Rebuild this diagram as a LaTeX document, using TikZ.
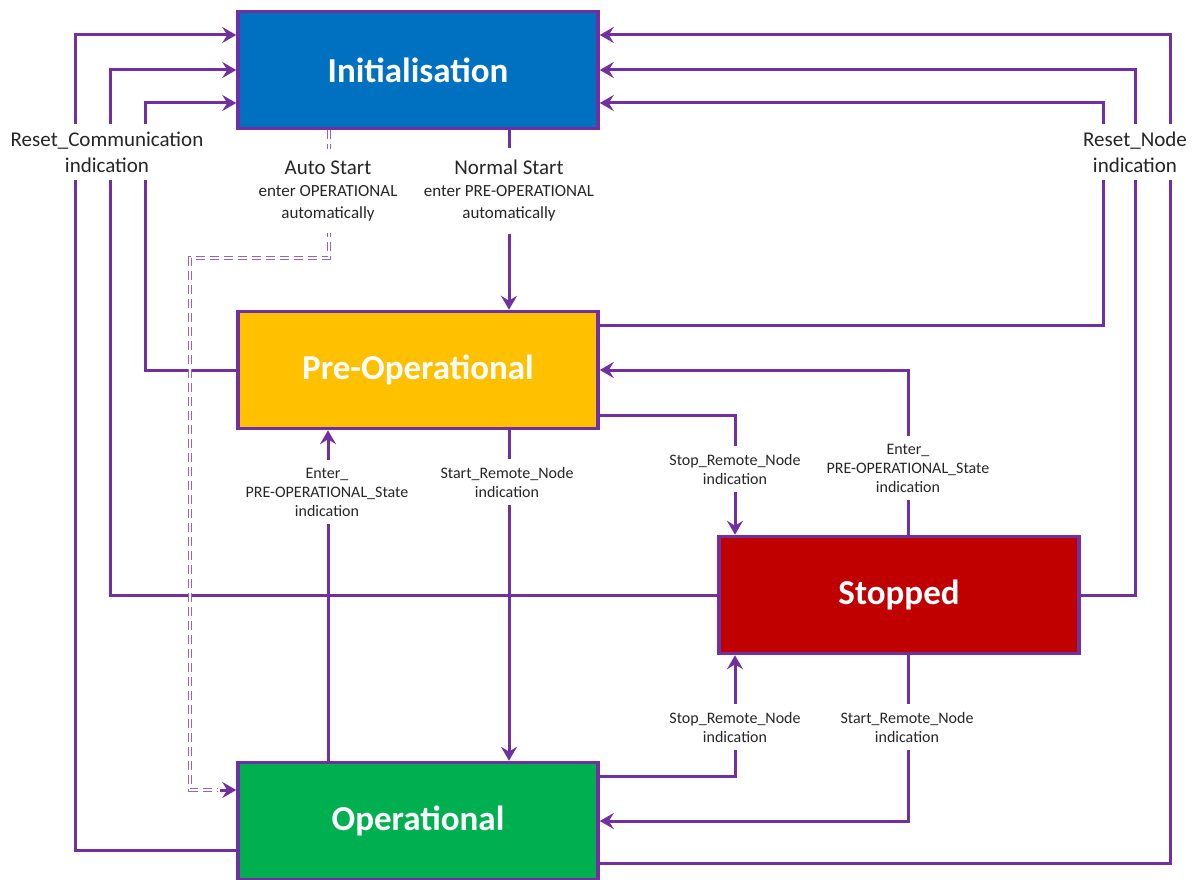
\documentclass[tikz,border=0pt]{standalone}
\usepackage{fontspec}
\setmainfont{Carlito}
\usetikzlibrary{arrows.meta}

\definecolor{initblue}{HTML}{0070C0}
\definecolor{preorange}{HTML}{FFC000}
\definecolor{stopred}{HTML}{C00000}
\definecolor{opgreen}{HTML}{00B050}
\definecolor{nmtpurple}{HTML}{7030A0}

\tikzset{
	state/.style={draw=nmtpurple, line width=3.5pt, rectangle, minimum width=360pt, minimum height=117pt, text=white, font=\bfseries\fontsize{35}{40}\selectfont},
	flow/.style={draw=nmtpurple, line width=3pt, -{Stealth[length=14pt,width=16pt,inset=5pt]}},
	autoflow/.style={draw=nmtpurple!75, line width=1.5pt, double=white, double distance=1.6pt, dash pattern=on 9pt off 5pt},
	lbl/.style={fill=white, align=center, inner xsep=3pt, inner ysep=8pt, text=black!85, font=\fontsize{16}{19}\selectfont},
	biglbl/.style={lbl, font=\fontsize{21}{26}\selectfont}
}

\begin{document}
\begin{tikzpicture}[x=1pt, y=-1pt]
				\useasboundingbox (0,0) rectangle (1196,880);
				\node[state, fill=initblue] (init)at(418, 70) {Initialisation};
				\node[state, fill=preorange] (preop)at(418, 370) {Pre-Operational};
				\node[state, fill=stopred] (stopped)at(899, 595) {Stopped};
				\node[state, fill=opgreen] (op)at(418, 821) {Operational};
				% reset communication
				\draw[flow] ([yshift=-29]op.west) -| (75,35) -- ([yshift=35]init.west);
				\draw[flow] (stopped.west) -| (110,70) -- (init.west);
				\draw[flow] (preop.west) -| (145,103) -- ([yshift=-33]init.west);
				% reset node
				\draw[flow] ([yshift=-42]op.east) -| (1170,35) -- ([yshift=35]init.east);
				\draw[flow] (stopped.east) -| (1135,70) -- (init.east);
				\draw[flow] ([yshift=45]preop.east) -| (1103,103) -- ([yshift=-33]init.east);
				% start up
				\draw[flow] ([xshift=91]init.south) -- ([xshift=91]preop.north);
				\draw[autoflow] ([xshift=-89]init.south) |- (190,258) |- (218,790);
				\draw[flow] (220,790) -- ([yshift=31]op.west);
				% pre-operational / operational / stopped
				\draw[flow] ([xshift=91]preop.south) -- ([xshift=91]op.north);
				\draw[flow] ([xshift=-90]op.north) -- ([xshift=-90]preop.south);
				\draw[flow] ([yshift=-45]preop.east) -| ([xshift=-164]stopped.north);
				\draw[flow] ([xshift=9]stopped.north) |- (preop.east);
				\draw[flow] ([yshift=45]op.east) -| ([xshift=-164]stopped.south);
				\draw[flow] ([xshift=9]stopped.south) |- (op.east);
				% labels
				\node[biglbl] (rc)at(107, 152) {Reset\_Communication\\indication};
				\node[biglbl] (rn)at(1135, 152) {Reset\_Node\\indication};
				\node[lbl, inner ysep=12pt, font=\fontsize{17}{22}\selectfont] (auto)at(328, 191) {{\fontsize{21}{24}\selectfont Auto Start}\\enter OPERATIONAL\\automatically};
				\node[lbl, inner ysep=12pt, font=\fontsize{17}{22}\selectfont] (normal)at(509, 191) {{\fontsize{21}{24}\selectfont Normal Start}\\enter PRE-OPERATIONAL\\automatically};
				\node[lbl] (sr1)at(507, 482) {Start\_Remote\_Node\\indication};
				\node[lbl] (ep1)at(327, 492) {Enter\_\\PRE-OPERATIONAL\_State\\indication};
				\node[lbl] (sp1)at(735, 469) {Stop\_Remote\_Node\\indication};
				\node[lbl] (ep2)at(908, 468) {Enter\_\\PRE-OPERATIONAL\_State\\indication};
				\node[lbl] (sp2)at(735, 727) {Stop\_Remote\_Node\\indication};
				\node[lbl] (sr2)at(907, 727) {Start\_Remote\_Node\\indication};
			\end{tikzpicture}
\end{document}
